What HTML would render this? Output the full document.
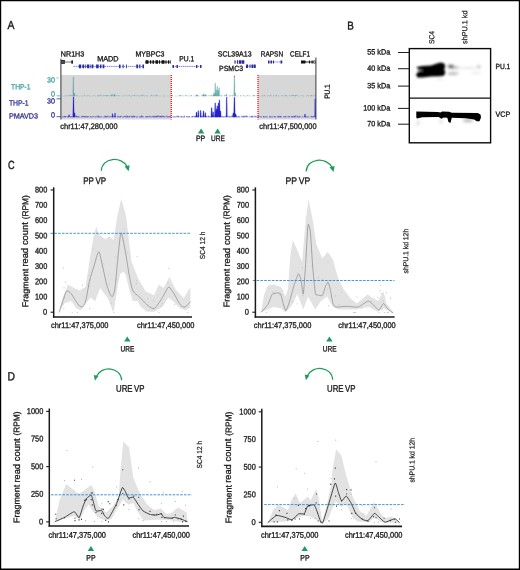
<!DOCTYPE html>
<html lang="en"><head><meta charset="utf-8"><title>Figure</title>
<style>
html,body{margin:0;padding:0;background:#fff;}
body{width:520px;height:570px;overflow:hidden;}
svg{display:block;font-family:'Liberation Sans', sans-serif;}
</style></head><body>
<svg width="520" height="570" viewBox="0 0 520 570">
<rect x="0" y="0" width="520" height="570" fill="#fff"/>
<g id="panelA">
<text transform="translate(7.5 29) matrix(0.8889 0.0005 0 1 0 0)" font-size="11.8" fill="#1a1a1a" stroke="#1a1a1a" stroke-width="0.4" text-anchor="start">A</text>
<rect x="61" y="75" width="110" height="44.5" fill="#d7d7d7"/>
<rect x="258" y="75" width="58" height="44.5" fill="#d7d7d7"/>
<text transform="translate(60.8 56.4) matrix(0.9555 0.0005 0 1 0 0)" font-size="7.5" fill="#1a1a1a" stroke="#1a1a1a" stroke-width="0.32" text-anchor="start">NR1H3</text>
<text transform="translate(97.2 61.2) matrix(0.9731 0.0005 0 1 0 0)" font-size="7.5" fill="#1a1a1a" stroke="#1a1a1a" stroke-width="0.32" text-anchor="start">MADD</text>
<text transform="translate(135.5 56.4) matrix(0.9402 0.0005 0 1 0 0)" font-size="7.5" fill="#1a1a1a" stroke="#1a1a1a" stroke-width="0.32" text-anchor="start">MYBPC3</text>
<text transform="translate(179.3 61.2) matrix(0.8989 0.0005 0 1 0 0)" font-size="7.5" fill="#1a1a1a" stroke="#1a1a1a" stroke-width="0.32" text-anchor="start">PU.1</text>
<text transform="translate(217.8 56.4) matrix(0.9316 0.0005 0 1 0 0)" font-size="7.5" fill="#1a1a1a" stroke="#1a1a1a" stroke-width="0.32" text-anchor="start">SCL39A13</text>
<text transform="translate(219.1 71.1) matrix(0.9287 0.0005 0 1 0 0)" font-size="7.5" fill="#1a1a1a" stroke="#1a1a1a" stroke-width="0.32" text-anchor="start">PSMC3</text>
<text transform="translate(260.8 56.4) matrix(0.8629 0.0005 0 1 0 0)" font-size="7.5" fill="#1a1a1a" stroke="#1a1a1a" stroke-width="0.32" text-anchor="start">RAPSN</text>
<text transform="translate(290 56.4) matrix(0.8568 0.0005 0 1 0 0)" font-size="7.5" fill="#1a1a1a" stroke="#1a1a1a" stroke-width="0.32" text-anchor="start">CELF1</text>
<line x1="64.5" y1="62" x2="71.5" y2="62" stroke="#666" stroke-width="0.9"/>
<rect x="61" y="60" width="3.9" height="3.9" fill="#2a2a2a"/>
<rect x="62" y="61.6" width="2.2" height="0.7" fill="#9a9a9a"/>
<ellipse cx="72.1" cy="62" rx="0.9" ry="2" fill="#111"/>
<line x1="73.4" y1="66.4" x2="144.2" y2="66.4" stroke="#6a6dcc" stroke-width="0.9" stroke-dasharray="1.4 0.7"/>
<path d="M78.8,64.60000000000001h2.4v3.6h-2.4zM82.4,64.60000000000001h1.8v3.6h-1.8zM85.3,64.60000000000001h0.8v3.6h-0.8zM87,64.60000000000001h2.4v3.6h-2.4zM90.4,64.60000000000001h1v3.6h-1zM92,64.60000000000001h1.4v3.6h-1.4zM96.1,64.60000000000001h2.6v3.6h-2.6zM100,64.60000000000001h1.4v3.6h-1.4zM102.6,64.60000000000001h1.8v3.6h-1.8zM119,64.60000000000001h1.5v3.6h-1.5zM122.6,64.60000000000001h1v3.6h-1zM126,64.60000000000001h0.8v3.6h-0.8zM136.3,64.60000000000001h1.8v3.6h-1.8zM139.2,64.60000000000001h1.2v3.6h-1.2zM142.4,64.60000000000001h1.6v3.6h-1.6z" fill="#2a2d9c"/>
<line x1="145.5" y1="62" x2="170.5" y2="62" stroke="#111" stroke-width="0.9"/>
<path d="M145.5,60.2h3v3.6h-3zM150,60.2h1.2v3.6h-1.2zM152.5,60.2h1.5v3.6h-1.5zM155.5,60.2h2.5v3.6h-2.5zM159,60.2h1v3.6h-1zM161.5,60.2h3v3.6h-3zM165.5,60.2h1v3.6h-1zM168,60.2h1v3.6h-1zM169.8,60.2h0.8v3.6h-0.8z" fill="#111"/>
<line x1="172.5" y1="66.4" x2="201.5" y2="66.4" stroke="#6a6dcc" stroke-width="0.9" stroke-dasharray="1.4 0.7"/>
<path d="M172.5,64.9h1.5v3h-1.5zM176.5,64.9h1.5v3h-1.5zM196,64.9h1.4v3h-1.4zM200,64.9h1.5v3h-1.5z" fill="#2a2d9c"/>
<line x1="234.5" y1="62" x2="244.5" y2="62" stroke="#6a6dcc" stroke-width="0.9" stroke-dasharray="1.4 0.7"/>
<path d="M234.5,60.3h1v3.4h-1zM237,60.3h1.2v3.4h-1.2zM239,60.3h2v3.4h-2zM241.5,60.3h2.8v3.4h-2.8z" fill="#2a2d9c"/>
<line x1="246" y1="66.2" x2="255.7" y2="66.2" stroke="#6a6dcc" stroke-width="0.9" stroke-dasharray="1.4 0.7"/>
<path d="M246,64.4h2v3.6h-2zM249.5,64.4h1v3.6h-1zM251.5,64.4h1.5v3.6h-1.5zM253.5,64.4h2.2v3.6h-2.2z" fill="#2a2d9c"/>
<line x1="268" y1="62" x2="282.5" y2="62" stroke="#6a6dcc" stroke-width="0.9" stroke-dasharray="1.4 0.7"/>
<path d="M268,60.5h1.5v3h-1.5zM270.5,60.5h1.5v3h-1.5zM273,60.5h1v3h-1zM280.5,60.5h1.8v3h-1.8z" fill="#2a2d9c"/>
<line x1="301" y1="62" x2="315.5" y2="62" stroke="#111" stroke-width="0.9"/>
<path d="M301,60.6h4.5v2.8h-4.5zM309,60.6h1v2.8h-1zM311.5,60.6h1.2v2.8h-1.2zM313.5,60.6h2v2.8h-2z" fill="#111"/>
<rect x="313.9" y="61.3" width="1.1" height="1.4" fill="#fff"/>
<line x1="60.9" y1="58.8" x2="60.9" y2="119.5" stroke="#4a4a4a" stroke-width="1.15"/>
<line x1="315.9" y1="57.6" x2="315.9" y2="119.5" stroke="#444" stroke-width="1.05"/>
<path d="M66.8,96.0v-0.8M69.2,96.0v-0.6M70.0,96.0v-1.0M71.6,96.0v-1.2M74.8,96.0v-0.4M76.4,96.0v-0.6M77.2,96.0v-0.4M84.4,96.0v-1.2M87.6,96.0v-0.6M88.4,96.0v-0.5M94.0,96.0v-0.6M98.0,96.0v-0.9M99.6,96.0v-0.5M100.4,96.0v-1.2M102.0,96.0v-0.6M102.8,96.0v-0.4M104.4,96.0v-0.8M106.0,96.0v-1.0M106.8,96.0v-0.9M107.6,96.0v-0.7M108.4,96.0v-0.6M110.8,96.0v-1.1M111.6,96.0v-0.7M114.0,96.0v-1.2M114.8,96.0v-0.6M116.4,96.0v-0.6M117.2,96.0v-0.5M118.8,96.0v-0.9M124.4,96.0v-0.5M126.8,96.0v-0.6M129.2,96.0v-1.2M132.4,96.0v-0.4M134.0,96.0v-1.0M134.8,96.0v-1.1M136.4,96.0v-0.5M138.0,96.0v-0.6M141.2,96.0v-1.1M142.0,96.0v-0.4M142.8,96.0v-0.8M143.6,96.0v-0.5M146.0,96.0v-0.7M150.8,96.0v-0.4M151.6,96.0v-1.1M154.0,96.0v-0.9M156.4,96.0v-1.2M157.2,96.0v-0.8M172.4,96.0v-0.9M179.6,96.0v-1.0M180.4,96.0v-0.9M182.0,96.0v-1.0M185.2,96.0v-0.4M186.0,96.0v-0.9M186.8,96.0v-0.5M190.8,96.0v-0.9M191.6,96.0v-0.7M196.4,96.0v-0.5M201.2,96.0v-0.5M202.8,96.0v-0.6M206.0,96.0v-1.1M208.4,96.0v-0.4M210.0,96.0v-1.0M211.6,96.0v-1.0M212.4,96.0v-0.5M214.0,96.0v-1.1M214.8,96.0v-0.5M215.6,96.0v-0.9M221.2,96.0v-0.8M222.0,96.0v-0.4M224.4,96.0v-0.6M225.2,96.0v-1.0M230.8,96.0v-1.1M232.4,96.0v-0.8M240.4,96.0v-1.0M243.6,96.0v-1.1M247.6,96.0v-1.1M249.2,96.0v-0.5M253.2,96.0v-1.0M254.0,96.0v-1.0M254.8,96.0v-0.7M256.4,96.0v-0.5M262.8,96.0v-0.6M264.4,96.0v-1.0M268.4,96.0v-0.7M270.8,96.0v-1.1M274.0,96.0v-0.8M276.4,96.0v-1.2M282.0,96.0v-0.8M285.2,96.0v-0.8M286.0,96.0v-0.7M289.2,96.0v-0.6M291.6,96.0v-1.0M292.4,96.0v-0.6M293.2,96.0v-0.9M294.0,96.0v-0.7M295.6,96.0v-1.0M296.4,96.0v-0.8M297.2,96.0v-0.6M302.0,96.0v-0.6M307.6,96.0v-1.0M310.0,96.0v-0.7M311.6,96.0v-1.2M313.2,96.0v-0.6M314.8,96.0v-0.5" stroke="#4a9b9b" stroke-width="0.7" fill="none" opacity="0.75"/>
<line x1="62" y1="96.0" x2="316" y2="96.0" stroke="#4a9b9b" stroke-width="0.7" stroke-dasharray="1 1.4 2 1.6 1 1.2" opacity="0.55"/>
<path d="M72.8,96.0L73.02,77.0L73.58,77.0L73.8,96.0ZM73.5,96.0L73.95,93.0L74.65,93.0L75.1,96.0ZM111.4,96.0L111.70,94.5L112.30,94.5L112.6,96.0ZM113.9,96.0L114.20,94.2L114.80,94.2L115.1,96.0ZM195.5,96.0L196.65,94.7L197.35,94.7L198.5,96.0ZM202.3,96.0L203.15,94.0L203.85,94.0L204.7,96.0ZM204.7,96.0L205.15,94.4L205.85,94.4L206.3,96.0ZM214.7,96.0L214.95,83.2L215.45,83.2L215.7,96.0ZM215.6,96.0L215.90,90.0L216.50,90.0L216.8,96.0ZM216.7,96.0L216.95,86.4L217.45,86.4L217.7,96.0ZM217.6,96.0L217.90,90.0L218.50,90.0L218.8,96.0ZM218.6,96.0L218.85,87.8L219.35,87.8L219.6,96.0ZM213.2,96.0L213.65,93.0L214.35,93.0L214.8,96.0ZM233.8,96.0L234.12,75.8L234.68,75.8L235.0,96.0ZM234.5,96.0L234.85,93.0L235.55,93.0L235.9,96.0ZM226.0,96.0L226.25,94.0L226.75,94.0L227.0,96.0Z" fill="#4a9b9b" stroke="#4a9b9b" stroke-width="0.3" opacity="0.8"/>
<path d="M64.4,116.9v-1.0M65.2,116.9v-0.9M66.0,116.9v-0.6M66.8,116.9v-0.6M68.4,116.9v-0.5M70.0,116.9v-0.9M71.6,116.9v-0.5M76.4,116.9v-1.2M77.2,116.9v-1.0M78.8,116.9v-0.5M82.0,116.9v-1.0M82.8,116.9v-0.6M83.6,116.9v-1.2M84.4,116.9v-0.5M85.2,116.9v-0.4M86.0,116.9v-1.0M87.6,116.9v-0.8M88.4,116.9v-0.7M90.8,116.9v-0.5M94.0,116.9v-0.9M97.2,116.9v-1.4M98.0,116.9v-0.8M98.8,116.9v-1.2M105.2,116.9v-1.4M106.0,116.9v-0.6M106.8,116.9v-0.9M107.6,116.9v-1.3M109.2,116.9v-0.5M110.8,116.9v-0.9M112.4,116.9v-0.8M114.0,116.9v-0.7M118.0,116.9v-1.1M120.4,116.9v-0.7M121.2,116.9v-1.2M124.4,116.9v-1.0M125.2,116.9v-1.0M126.8,116.9v-1.4M127.6,116.9v-1.0M129.2,116.9v-1.0M130.8,116.9v-1.1M131.6,116.9v-0.8M133.2,116.9v-1.3M134.0,116.9v-1.1M134.8,116.9v-0.8M135.6,116.9v-0.5M141.2,116.9v-1.3M142.0,116.9v-1.3M146.8,116.9v-0.7M147.6,116.9v-0.7M149.2,116.9v-0.8M150.0,116.9v-1.2M152.4,116.9v-0.7M153.2,116.9v-0.6M154.0,116.9v-1.3M155.6,116.9v-0.9M156.4,116.9v-1.0M157.2,116.9v-1.3M158.0,116.9v-1.3M158.8,116.9v-1.4M160.4,116.9v-1.2M161.2,116.9v-0.8M162.0,116.9v-1.2M162.8,116.9v-1.1M163.6,116.9v-1.1M164.4,116.9v-0.5M166.8,116.9v-1.4M168.4,116.9v-0.4M170.0,116.9v-1.1M176.4,116.9v-0.5M177.2,116.9v-1.3M178.0,116.9v-0.8M178.8,116.9v-1.0M181.2,116.9v-0.8M184.4,116.9v-1.3M186.8,116.9v-0.8M189.2,116.9v-0.8M192.4,116.9v-0.8M193.2,116.9v-0.7M194.0,116.9v-1.2M195.6,116.9v-0.6M196.4,116.9v-1.1M197.2,116.9v-0.6M202.0,116.9v-1.0M205.2,116.9v-0.5M206.8,116.9v-0.8M207.6,116.9v-0.4M208.4,116.9v-1.4M211.6,116.9v-0.6M213.2,116.9v-1.0M215.6,116.9v-0.5M217.2,116.9v-1.0M218.0,116.9v-1.0M221.2,116.9v-0.7M222.8,116.9v-0.7M226.0,116.9v-1.4M226.8,116.9v-1.2M229.2,116.9v-1.1M231.6,116.9v-1.3M233.2,116.9v-1.2M234.0,116.9v-0.5M238.8,116.9v-1.0M242.0,116.9v-1.1M243.6,116.9v-1.2M244.4,116.9v-0.6M245.2,116.9v-1.1M246.0,116.9v-1.4M246.8,116.9v-1.2M251.6,116.9v-1.2M252.4,116.9v-1.0M254.8,116.9v-1.3M255.6,116.9v-0.7M258.8,116.9v-1.2M260.4,116.9v-0.5M263.6,116.9v-0.9M270.0,116.9v-1.0M274.0,116.9v-0.9M274.8,116.9v-0.6M278.0,116.9v-0.6M278.8,116.9v-1.3M280.4,116.9v-1.0M281.2,116.9v-0.4M285.2,116.9v-1.0M287.6,116.9v-0.5M289.2,116.9v-1.1M291.6,116.9v-0.5M292.4,116.9v-0.9M294.0,116.9v-1.1M294.8,116.9v-1.1M295.6,116.9v-1.3M297.2,116.9v-1.3M299.6,116.9v-1.1M305.2,116.9v-0.7M311.6,116.9v-1.1M313.2,116.9v-0.7M314.0,116.9v-0.4M314.8,116.9v-0.7M315.6,116.9v-0.9" stroke="#2323c8" stroke-width="0.7" fill="none" opacity="0.75"/>
<line x1="62" y1="116.9" x2="316" y2="116.9" stroke="#2323c8" stroke-width="0.7" stroke-dasharray="4 1 2 0.8 5 1" opacity="0.8"/>
<path d="M68.5,116.9L68.75,114.7L69.25,114.7L69.5,116.9ZM72.8,116.9L73.15,96.9L73.85,96.9L74.2,116.9ZM73.6,116.9L74.15,112.9L74.85,112.9L75.4,116.9ZM112.0,116.9L112.22,113.7L112.78,113.7L113.0,116.9ZM114.5,116.9L114.72,113.3L115.28,113.3L115.5,116.9ZM195.8,116.9L196.15,112.3L196.85,112.3L197.2,116.9ZM197.7,116.9L197.98,110.7L198.62,110.7L199.0,116.9ZM200.0,116.9L200.38,110.5L201.02,110.5L201.3,116.9ZM202.8,116.9L203.18,110.9L203.82,110.9L204.2,116.9ZM204.7,116.9L204.98,112.7L205.62,112.7L206.0,116.9ZM210.9,116.9L211.35,107.7L212.05,107.7L212.4,116.9ZM212.4,116.9L212.85,111.9L213.55,111.9L213.9,116.9ZM214.5,116.9L214.88,102.9L215.52,102.9L215.8,116.9ZM215.6,116.9L215.95,108.9L216.65,108.9L217.0,116.9ZM216.6,116.9L216.95,105.9L217.65,105.9L218.0,116.9ZM217.7,116.9L218.05,102.9L218.75,102.9L219.1,116.9ZM218.8,116.9L219.08,100.1L219.72,100.1L220.1,116.9ZM219.6,116.9L220.05,110.9L220.75,110.9L221.2,116.9ZM226.1,116.9L226.40,97.3L227.00,97.3L227.3,116.9ZM233.7,116.9L234.05,97.1L234.75,97.1L235.2,116.9ZM232.4,116.9L233.05,112.9L233.75,112.9L234.4,116.9ZM234.6,116.9L235.25,113.9L235.95,113.9L236.6,116.9ZM304.5,116.9L304.75,114.1L305.25,114.1L305.5,116.9ZM314.7,116.9L314.88,98.9L315.33,98.9L315.6,116.9Z" fill="#2323c8" stroke="#2323c8" stroke-width="0.3" opacity="1.0"/>
<rect x="233.9" y="75.9" width="1.1" height="1" fill="#e040e0"/>
<rect x="233.9" y="97" width="1.1" height="1" fill="#e040e0"/>
<rect x="226.2" y="97" width="1.1" height="1" fill="#e040e0"/>
<line x1="171.3" y1="75" x2="171.3" y2="119.5" stroke="#f21010" stroke-width="1.3" stroke-dasharray="1 1"/>
<line x1="258.0" y1="75" x2="258.0" y2="119.5" stroke="#f21010" stroke-width="1.3" stroke-dasharray="1 1"/>
<text transform="translate(11 89.2) matrix(0.9044 0.0005 0 1 0 0)" font-size="7.5" fill="#4aa5a5" stroke="#4aa5a5" stroke-width="0.32" text-anchor="start">THP-1</text>
<text transform="translate(8.9 105.4) matrix(0.9136 0.0005 0 1 0 0)" font-size="7.5" fill="#3a3a9c" stroke="#3a3a9c" stroke-width="0.32" text-anchor="start">THP-1</text>
<text transform="translate(8.9 118.5) matrix(0.9671 0.0005 0 1 0 0)" font-size="7.5" fill="#3a3a9c" stroke="#3a3a9c" stroke-width="0.32" text-anchor="start">PMAVD3</text>
<text transform="translate(47 82.5) matrix(0.9588 0.0005 0 1 0 0)" font-size="7.5" fill="#4aa5a5" stroke="#4aa5a5" stroke-width="0.32" text-anchor="start">30</text>
<text transform="translate(51 96.4) matrix(0.9588 0.0005 0 1 0 0)" font-size="7.5" fill="#4aa5a5" stroke="#4aa5a5" stroke-width="0.32" text-anchor="start">0</text>
<text transform="translate(47 103.5) matrix(0.9588 0.0005 0 1 0 0)" font-size="7.5" fill="#3a3a9c" stroke="#3a3a9c" stroke-width="0.32" text-anchor="start">30</text>
<text transform="translate(51 117.4) matrix(0.9588 0.0005 0 1 0 0)" font-size="7.5" fill="#3a3a9c" stroke="#3a3a9c" stroke-width="0.32" text-anchor="start">0</text>
<line x1="56.5" y1="78" x2="58.5" y2="78" stroke="#4aa5a5" stroke-width="0.7"/>
<line x1="56.5" y1="95.8" x2="61" y2="95.8" stroke="#4aa5a5" stroke-width="0.8"/>
<line x1="56.5" y1="98.8" x2="61" y2="98.8" stroke="#3a3a9c" stroke-width="0.8"/>
<line x1="56.5" y1="116.7" x2="61" y2="116.7" stroke="#3a3a9c" stroke-width="0.8"/>
<text transform="translate(60.3 128.9) matrix(0.9182 0.0005 0 1 0 0)" font-size="8.1" fill="#1a1a1a" stroke="#1a1a1a" stroke-width="0.32" text-anchor="start">chr11:47,280,000</text>
<text transform="translate(259.3 128.9) matrix(0.9182 0.0005 0 1 0 0)" font-size="8.1" fill="#1a1a1a" stroke="#1a1a1a" stroke-width="0.32" text-anchor="start">chr11:47,500,000</text>
<text transform="translate(329.8 98.8) rotate(-90) matrix(0.8689 0.0005 0 1 0 0)" font-size="7.5" fill="#1a1a1a" stroke="#1a1a1a" stroke-width="0.32" text-anchor="start">PU.1</text>
<path d="M197.9,133.5L201.1,128.5L204.29999999999998,133.5Z" fill="#1e9c5a"/>
<path d="M214.4,133.5L217.6,128.5L220.79999999999998,133.5Z" fill="#1e9c5a"/>
<text transform="translate(200.6 141.1) matrix(0.8736 0.0005 0 1 0 0)" font-size="7.9" fill="#1a1a1a" stroke="#1a1a1a" stroke-width="0.32" text-anchor="middle">PP</text>
<text transform="translate(217.9 141.1) matrix(0.8277 0.0005 0 1 0 0)" font-size="7.9" fill="#1a1a1a" stroke="#1a1a1a" stroke-width="0.32" text-anchor="middle">URE</text>
</g>
<g id="panelB">
<text transform="translate(347.2 29.5) matrix(0.8837 0.0005 0 1 0 0)" font-size="11.2" fill="#1a1a1a" stroke="#1a1a1a" stroke-width="0.4" text-anchor="start">B</text>
<defs>
<filter id="bl1" x="-20%" y="-50%" width="140%" height="200%"><feGaussianBlur stdDeviation="0.9"/></filter>
<filter id="bl2" x="-20%" y="-50%" width="140%" height="200%"><feGaussianBlur stdDeviation="1.4"/></filter>
<filter id="bl3" x="-20%" y="-50%" width="140%" height="200%"><feGaussianBlur stdDeviation="0.7"/></filter>
</defs>
<g filter="url(#bl1)">
<path d="M416.8,67.1 L422.3,66.1 L431,65.4 L436.1,63.7 L440.5,62.4 L443.9,63.2 L445.3,65.8 L444.3,69.2 L445.3,72.7 L443.9,75.8 L439.6,76.2 L431,76.6 L422.3,77.6 L417.5,77.6 L416.3,75.3 L416.6,72.7 L418.5,70.5 L416.8,69 Z" fill="#000"/>
<path d="M415.5,69 L423.5,70.3 L415.5,72.3 Z" fill="#fff" opacity="0.6"/>
</g>
<g filter="url(#bl2)">
<ellipse cx="450.8" cy="66.5" rx="3" ry="1.7" fill="#000" opacity="0.65"/>
<ellipse cx="455.5" cy="67.6" rx="4" ry="1.2" fill="#000" opacity="0.3"/>
<ellipse cx="453" cy="73.4" rx="5.5" ry="1.5" fill="#000" opacity="0.28"/>
<ellipse cx="468" cy="68" rx="9" ry="1" fill="#000" opacity="0.1"/>
<ellipse cx="478.8" cy="66.8" rx="1.6" ry="1.8" fill="#000" opacity="0.28"/>
<ellipse cx="476" cy="73" rx="5" ry="1.2" fill="#000" opacity="0.08"/>
<ellipse cx="440" cy="79.5" rx="3" ry="1" fill="#000" opacity="0.1"/>
<ellipse cx="418" cy="123" rx="1.5" ry="3" fill="#000" opacity="0.12"/>
<ellipse cx="441" cy="121.5" rx="1.5" ry="2.5" fill="#000" opacity="0.12"/>
<ellipse cx="468" cy="120.5" rx="5" ry="1.6" fill="#000" opacity="0.3"/>
</g>
<g filter="url(#bl3)">
<path d="M416.3,111.6 L437.9,111.9 L440.5,112.5 L442.2,111.5 L449.1,111.7 L451.7,112.7 L477.7,113 L480.5,114.4 L481,117.6 L479.5,121.2 L476.7,121.2 L474.2,119.5 L465.6,118.2 L451.8,117.8 L450.4,123 L448.5,122 L447.3,117.8 L443.9,117.4 L441.3,118.7 L438.7,116.9 L422.3,117.3 L417,118.6 L416.3,117.5 Z" fill="#000"/>
</g>
<rect x="409.3" y="48.6" width="81.3" height="94.2" fill="none" stroke="#0a0a0a" stroke-width="1.4"/>
<line x1="409.3" y1="98.1" x2="490.5" y2="98.1" stroke="#111" stroke-width="1.3"/>
<line x1="398" y1="52.5" x2="409" y2="52.5" stroke="#222" stroke-width="1.05"/>
<text transform="translate(390.2 54.6) matrix(0.9401 0.0005 0 1 0 0)" font-size="7.7" fill="#1a1a1a" stroke="#1a1a1a" stroke-width="0.32" text-anchor="end">55 kDa</text>
<line x1="398" y1="68.7" x2="409" y2="68.7" stroke="#222" stroke-width="1.05"/>
<text transform="translate(390.2 70.8) matrix(0.9401 0.0005 0 1 0 0)" font-size="7.7" fill="#1a1a1a" stroke="#1a1a1a" stroke-width="0.32" text-anchor="end">40 kDa</text>
<line x1="398" y1="86.1" x2="409" y2="86.1" stroke="#222" stroke-width="1.05"/>
<text transform="translate(390.2 88.19999999999999) matrix(0.9401 0.0005 0 1 0 0)" font-size="7.7" fill="#1a1a1a" stroke="#1a1a1a" stroke-width="0.32" text-anchor="end">35 kDa</text>
<line x1="398" y1="108.4" x2="409" y2="108.4" stroke="#222" stroke-width="1.05"/>
<text transform="translate(390.2 110.5) matrix(0.9392 0.0005 0 1 0 0)" font-size="7.7" fill="#1a1a1a" stroke="#1a1a1a" stroke-width="0.32" text-anchor="end">100 kDa</text>
<line x1="398" y1="124.2" x2="409" y2="124.2" stroke="#222" stroke-width="1.05"/>
<text transform="translate(390.2 126.3) matrix(0.9401 0.0005 0 1 0 0)" font-size="7.7" fill="#1a1a1a" stroke="#1a1a1a" stroke-width="0.32" text-anchor="end">70 kDa</text>
<text transform="translate(434.3 44) rotate(-90) matrix(0.8771 0.0005 0 1 0 0)" font-size="7.5" fill="#1a1a1a" stroke="#1a1a1a" stroke-width="0.2" text-anchor="start">SC4</text>
<text transform="translate(467.2 44) rotate(-90) matrix(0.9708 0.0005 0 1 0 0)" font-size="7.5" fill="#1a1a1a" stroke="#1a1a1a" stroke-width="0.2" text-anchor="start">shPU.1 kd</text>
<text transform="translate(495.5 69) matrix(0.8869 0.0005 0 1 0 0)" font-size="7.5" fill="#1a1a1a" stroke="#1a1a1a" stroke-width="0.32" text-anchor="start">PU.1</text>
<text transform="translate(495.5 116.8) matrix(0.9597 0.0005 0 1 0 0)" font-size="7.5" fill="#1a1a1a" stroke="#1a1a1a" stroke-width="0.32" text-anchor="start">VCP</text>
</g>
<g id="panelC">
<text transform="translate(8 169) matrix(0.7736 0.0005 0 1 0 0)" font-size="11.8" fill="#1a1a1a" stroke="#1a1a1a" stroke-width="0.4" text-anchor="start">C</text>
<text transform="translate(83.3 183.9) matrix(0.8406 0.0005 0 1 0 0)" font-size="9.5" fill="#1a1a1a" stroke="#1a1a1a" stroke-width="0.32" text-anchor="start" word-spacing="-0.7">PP VP</text>
<g transform="translate(0.0 0.0)"><path d="M101.3,170.8 C102,157.2 121.5,155.7 127.4,167" stroke="#1e9c5a" stroke-width="1.25" fill="none"/><path d="M124.6,166.6 L128.6,171.2 L129.7,165.2 Z" fill="#1e9c5a"/></g>
<polygon points="59.0,312.5 62.0,300.0 67.8,284.5 74.0,288.0 79.6,290.5 85.5,287.0 90.0,258.0 93.5,237.0 96.2,226.5 98.6,233.6 101.0,236.0 105.7,239.5 109.2,236.0 113.5,240.0 117.0,218.0 121.2,198.7 126.3,217.0 128.8,240.0 131.6,262.0 138.7,279.8 145.8,291.6 154.1,295.2 158.8,284.5 163.6,288.0 169.5,277.0 175.4,289.3 183.7,298.3 188.0,291.0 190.4,287.4 190.4,305.9 186.0,310.6 180.2,308.2 174.2,302.3 168.3,297.6 162.4,307.0 154.1,311.8 147.0,311.8 141.0,307.0 137.5,301.0 132.8,301.0 129.2,289.3 125.7,275.0 123.5,271.5 120.0,273.9 117.0,290.0 113.5,313.0 108.0,298.7 100.2,288.0 95.0,301.6 90.8,297.6 85.5,303.5 80.8,310.6 76.0,308.0 71.3,301.0 64.2,303.5 59.0,312.5" fill="#e2e2e2"/>
<path d="M77.0,312.5h1M92.7,249.3h1M123.9,228.7h1M162.0,303.7h1M71.7,312.5h1M115.8,279.6h1M158.6,312.5h1M153.3,308.8h1M89.2,308.6h1M63.5,287.9h1M62.8,267.9h1M109.1,284.2h1M87.7,285.3h1M88.3,286.3h1M116.4,257.8h1M89.5,279.6h1M87.9,275.5h1M62.3,304.1h1M168.4,268.3h1M83.7,297.2h1M188.5,307.5h1M102.8,263.9h1M153.3,300.6h1M114.4,256.5h1M167.4,282.7h1M135.9,283.6h1M174.2,304.4h1M136.1,280.6h1M64.0,297.9h1M113.4,312.5h1M82.0,285.4h1M147.2,298.8h1M108.2,274.8h1M160.7,305.7h1M127.2,253.3h1M63.3,308.6h1M65.2,282.1h1M136.6,256.5h1M110.7,303.1h1M187.2,312.5h1" stroke="#c8c8c8" stroke-width="1.15" fill="none"/>
<path d="M59.0,312.5 C59.4,311.2 61.5,304.7 62.5,302.0 C63.5,299.3 65.5,292.3 66.6,291.2 C67.7,290.1 69.9,292.3 71.0,293.5 C72.1,294.7 74.4,298.9 75.5,300.5 C76.6,302.1 78.6,305.3 79.6,306.0 C80.6,306.7 82.4,307.1 83.2,306.3 C84.0,305.5 85.2,303.2 86.0,300.0 C86.8,296.8 88.5,285.3 89.5,281.0 C90.5,276.7 92.8,269.7 94.0,266.0 C95.2,262.3 97.7,251.8 98.8,251.8 C99.9,251.8 101.5,261.9 102.5,266.0 C103.5,270.1 105.5,280.5 106.5,284.0 C107.5,287.5 109.2,292.4 110.0,294.0 C110.8,295.6 111.9,297.2 112.5,296.4 C113.1,295.6 114.4,292.4 115.0,288.0 C115.6,283.6 116.7,269.0 117.5,262.0 C118.3,255.0 120.0,234.1 121.0,233.0 C122.0,231.9 124.7,248.4 125.7,253.7 C126.7,259.0 128.3,270.3 129.2,275.0 C130.1,279.7 131.6,287.8 132.8,290.5 C134.0,293.2 137.4,295.1 138.7,296.4 C140.0,297.7 142.2,299.8 143.4,301.0 C144.6,302.2 146.8,304.9 148.2,305.9 C149.6,306.9 152.8,309.0 154.1,308.7 C155.4,308.4 157.4,304.9 158.5,303.5 C159.6,302.1 161.5,299.2 162.4,297.6 C163.3,296.0 165.2,292.3 166.0,291.0 C166.8,289.7 168.0,286.6 169.0,287.0 C170.0,287.4 172.8,291.8 174.2,294.0 C175.6,296.2 178.8,303.1 180.2,304.7 C181.6,306.3 183.7,307.4 185.0,307.0 C186.3,306.6 189.7,302.3 190.4,301.6" stroke="#7d7d7d" stroke-width="0.62" fill="none" stroke-linejoin="round"/>
<line x1="50.5" y1="233.3" x2="191" y2="233.3" stroke="#2f8bd6" stroke-width="0.9" stroke-dasharray="2.6 1.2"/>
<path d="M53.7,187.3V317.70000000000005" stroke="#1a1a1a" stroke-width="1.5" fill="none"/>
<path d="M52.95,317.05H192" stroke="#1a1a1a" stroke-width="1.55" fill="none"/>
<line x1="50.6" y1="312.2" x2="53.7" y2="312.2" stroke="#1a1a1a" stroke-width="1.1"/>
<text transform="translate(47.3 314.8) matrix(0.8990 0.0005 0 1 0 0)" font-size="8.4" fill="#1a1a1a" stroke="#1a1a1a" stroke-width="0.32" text-anchor="end">0</text>
<text transform="translate(47.3 299.52000000000004) matrix(0.8796 0.0005 0 1 0 0)" font-size="8.4" fill="#1a1a1a" stroke="#1a1a1a" stroke-width="0.32" text-anchor="end">100</text>
<text transform="translate(47.3 284.24) matrix(0.8796 0.0005 0 1 0 0)" font-size="8.4" fill="#1a1a1a" stroke="#1a1a1a" stroke-width="0.32" text-anchor="end">200</text>
<text transform="translate(47.3 268.96000000000004) matrix(0.8796 0.0005 0 1 0 0)" font-size="8.4" fill="#1a1a1a" stroke="#1a1a1a" stroke-width="0.32" text-anchor="end">300</text>
<text transform="translate(47.3 253.67999999999998) matrix(0.8796 0.0005 0 1 0 0)" font-size="8.4" fill="#1a1a1a" stroke="#1a1a1a" stroke-width="0.32" text-anchor="end">400</text>
<text transform="translate(47.3 238.4) matrix(0.8796 0.0005 0 1 0 0)" font-size="8.4" fill="#1a1a1a" stroke="#1a1a1a" stroke-width="0.32" text-anchor="end">500</text>
<text transform="translate(47.3 223.11999999999998) matrix(0.8796 0.0005 0 1 0 0)" font-size="8.4" fill="#1a1a1a" stroke="#1a1a1a" stroke-width="0.32" text-anchor="end">600</text>
<text transform="translate(47.3 207.84) matrix(0.8796 0.0005 0 1 0 0)" font-size="8.4" fill="#1a1a1a" stroke="#1a1a1a" stroke-width="0.32" text-anchor="end">700</text>
<line x1="50.6" y1="189.95999999999998" x2="53.7" y2="189.95999999999998" stroke="#1a1a1a" stroke-width="1.1"/>
<text transform="translate(47.3 192.55999999999997) matrix(0.8796 0.0005 0 1 0 0)" font-size="8.4" fill="#1a1a1a" stroke="#1a1a1a" stroke-width="0.32" text-anchor="end">800</text>
<g transform="translate(28.3 251.2) rotate(-90)">
<text transform="translate(-56.0 0) matrix(1.0451 0.0005 0 1 0 0)" font-size="8.6" fill="#1a1a1a" stroke="#1a1a1a" stroke-width="0.3" text-anchor="start">Fragment</text>
<text transform="translate(-15.35 0) matrix(1.0763 0.0005 0 1 0 0)" font-size="8.6" fill="#1a1a1a" stroke="#1a1a1a" stroke-width="0.3" text-anchor="start">read</text>
<text transform="translate(6.09 0) matrix(1.0909 0.0005 0 1 0 0)" font-size="8.6" fill="#1a1a1a" stroke="#1a1a1a" stroke-width="0.3" text-anchor="start">count</text>
<text transform="translate(31.85 0) matrix(0.9727 0.0005 0 1 0 0)" font-size="8.6" fill="#1a1a1a" stroke="#1a1a1a" stroke-width="0.3" text-anchor="start">(RPM)</text>
</g>
<text transform="translate(51 327.90000000000003) matrix(0.9109 0.0005 0 1 0 0)" font-size="8.2" fill="#1a1a1a" stroke="#1a1a1a" stroke-width="0.32" text-anchor="start">chr11:47,375,000</text>
<text transform="translate(137 327.90000000000003) matrix(0.9109 0.0005 0 1 0 0)" font-size="8.2" fill="#1a1a1a" stroke="#1a1a1a" stroke-width="0.32" text-anchor="start">chr11:47,450,000</text>
<text transform="translate(205.1 259.2) rotate(-90) matrix(0.9068 0.0005 0 1 0 0)" font-size="7.3" fill="#1a1a1a" stroke="#1a1a1a" stroke-width="0.2" text-anchor="start">SC4 12 h</text>
<path d="M124.1,341.6L127.3,336.6L130.5,341.6Z" fill="#1e9c5a"/>
<text transform="translate(127.4 351.4) matrix(0.8277 0.0005 0 1 0 0)" font-size="7.9" fill="#1a1a1a" stroke="#1a1a1a" stroke-width="0.32" text-anchor="middle">URE</text>
<text transform="translate(285.59999999999997 183.9) matrix(0.9069 0.0005 0 1 0 0)" font-size="9.5" fill="#1a1a1a" stroke="#1a1a1a" stroke-width="0.32" text-anchor="start" word-spacing="-0.7">PP VP</text>
<g transform="translate(204.9 0.7)"><path d="M101.3,170.8 C102,157.2 121.5,155.7 127.4,167" stroke="#1e9c5a" stroke-width="1.25" fill="none"/><path d="M124.6,166.6 L128.6,171.2 L129.7,165.2 Z" fill="#1e9c5a"/></g>
<polygon points="261.1,312.3 264.2,294.0 267.8,285.7 273.7,284.5 280.8,287.0 285.5,296.4 288.0,289.0 290.3,256.0 292.7,240.0 297.4,250.2 302.1,262.0 305.7,220.5 308.5,199.2 312.8,220.5 316.4,244.2 322.3,258.5 327.7,252.0 333.0,259.6 337.8,277.4 343.7,289.3 350.8,298.7 356.7,303.5 362.7,298.7 367.4,294.5 373.3,298.3 378.0,301.0 383.5,291.2 386.4,303.5 393.0,311.8 393.0,313.0 383.5,308.2 378.0,311.8 368.6,307.0 355.5,309.4 339.0,309.4 333.0,307.0 327.0,296.4 321.0,301.0 315.2,309.4 308.0,296.4 303.3,309.4 297.4,294.0 291.5,305.9 285.5,312.3 280.8,308.2 273.7,307.0 261.1,312.3" fill="#e2e2e2"/>
<path d="M386.7,312.5h1M272.6,292.4h1M371.0,301.4h1M301.9,267.5h1M340.9,292.2h1M282.2,290.5h1M317.9,277.3h1M391.8,312.5h1M385.9,292.6h1M296.6,273.1h1M266.2,312.5h1M303.2,291.3h1M311.3,266.2h1M334.9,295.8h1M292.4,301.7h1M279.4,295.4h1M328.3,305.6h1M285.3,310.0h1M378.6,312.5h1M380.3,285.5h1M361.4,307.9h1M390.0,298.4h1M387.5,312.5h1M355.2,312.5h1M321.9,279.1h1M382.7,300.9h1M327.1,289.5h1M377.2,297.5h1M379.4,290.9h1M382.1,309.2h1M356.3,297.1h1M304.0,279.0h1M353.1,312.5h1M296.6,303.7h1M380.9,293.6h1M354.0,312.5h1M327.6,262.2h1M338.5,304.6h1M302.4,295.6h1M383.9,312.5h1" stroke="#c8c8c8" stroke-width="1.15" fill="none"/>
<path d="M261.1,312.3 C261.7,311.6 266.7,306.4 267.8,304.7 C268.9,303.0 271.3,295.0 272.5,294.0 C273.7,293.0 279.3,292.6 280.3,293.5 C281.3,294.4 282.7,301.9 283.2,303.5 C283.7,305.1 285.3,311.0 286.0,310.6 C286.7,310.2 289.5,301.4 290.3,298.7 C291.1,296.0 294.2,284.5 295.0,282.2 C295.8,279.9 298.0,274.1 298.6,273.9 C299.2,273.7 300.6,277.9 301.0,279.8 C301.4,281.7 302.9,295.5 303.3,294.0 C303.7,292.5 305.3,269.6 305.7,263.2 C306.1,256.8 307.6,227.9 308.0,225.0 C308.4,222.1 310.0,228.4 310.4,232.4 C310.8,236.4 312.3,262.3 312.8,268.0 C313.3,273.7 315.0,291.0 315.4,293.5 C315.8,296.0 316.9,294.6 317.5,294.8 C318.1,295.0 321.5,296.3 322.3,295.5 C323.1,294.7 325.2,286.9 325.8,285.7 C326.4,284.5 327.7,281.6 328.2,282.2 C328.7,282.8 330.3,289.6 330.7,291.6 C331.1,293.6 332.6,302.1 333.0,303.5 C333.4,304.9 334.5,306.2 335.0,306.5 C335.5,306.8 337.0,307.0 338.0,307.0 C339.0,307.0 344.1,306.3 346.0,306.3 C347.9,306.3 356.3,307.3 358.0,307.0 C359.7,306.7 362.8,304.1 363.8,303.5 C364.8,302.9 367.7,300.9 368.6,301.0 C369.5,301.1 372.3,303.9 373.3,304.7 C374.3,305.5 377.8,310.1 378.8,310.0 C379.8,309.9 382.7,303.6 383.5,303.5 C384.3,303.4 386.6,307.8 387.5,308.7 C388.4,309.6 392.5,312.6 393.0,313.0" stroke="#7d7d7d" stroke-width="0.62" fill="none" stroke-linejoin="round"/>
<line x1="252.8" y1="280.5" x2="394.5" y2="280.5" stroke="#2f8bd6" stroke-width="0.9" stroke-dasharray="2.6 1.2"/>
<path d="M255.4,187.3V317.70000000000005" stroke="#1a1a1a" stroke-width="1.5" fill="none"/>
<path d="M254.65,317.05H394.6" stroke="#1a1a1a" stroke-width="1.55" fill="none"/>
<line x1="252.3" y1="312.2" x2="255.4" y2="312.2" stroke="#1a1a1a" stroke-width="1.1"/>
<text transform="translate(249 314.8) matrix(0.8990 0.0005 0 1 0 0)" font-size="8.4" fill="#1a1a1a" stroke="#1a1a1a" stroke-width="0.32" text-anchor="end">0</text>
<text transform="translate(249 299.52000000000004) matrix(0.8796 0.0005 0 1 0 0)" font-size="8.4" fill="#1a1a1a" stroke="#1a1a1a" stroke-width="0.32" text-anchor="end">100</text>
<text transform="translate(249 284.24) matrix(0.8796 0.0005 0 1 0 0)" font-size="8.4" fill="#1a1a1a" stroke="#1a1a1a" stroke-width="0.32" text-anchor="end">200</text>
<text transform="translate(249 268.96000000000004) matrix(0.8796 0.0005 0 1 0 0)" font-size="8.4" fill="#1a1a1a" stroke="#1a1a1a" stroke-width="0.32" text-anchor="end">300</text>
<text transform="translate(249 253.67999999999998) matrix(0.8796 0.0005 0 1 0 0)" font-size="8.4" fill="#1a1a1a" stroke="#1a1a1a" stroke-width="0.32" text-anchor="end">400</text>
<text transform="translate(249 238.4) matrix(0.8796 0.0005 0 1 0 0)" font-size="8.4" fill="#1a1a1a" stroke="#1a1a1a" stroke-width="0.32" text-anchor="end">500</text>
<text transform="translate(249 223.11999999999998) matrix(0.8796 0.0005 0 1 0 0)" font-size="8.4" fill="#1a1a1a" stroke="#1a1a1a" stroke-width="0.32" text-anchor="end">600</text>
<text transform="translate(249 207.84) matrix(0.8796 0.0005 0 1 0 0)" font-size="8.4" fill="#1a1a1a" stroke="#1a1a1a" stroke-width="0.32" text-anchor="end">700</text>
<line x1="252.3" y1="189.95999999999998" x2="255.4" y2="189.95999999999998" stroke="#1a1a1a" stroke-width="1.1"/>
<text transform="translate(249 192.55999999999997) matrix(0.8796 0.0005 0 1 0 0)" font-size="8.4" fill="#1a1a1a" stroke="#1a1a1a" stroke-width="0.32" text-anchor="end">800</text>
<g transform="translate(229.6 251.2) rotate(-90)">
<text transform="translate(-56.0 0) matrix(1.0451 0.0005 0 1 0 0)" font-size="8.6" fill="#1a1a1a" stroke="#1a1a1a" stroke-width="0.3" text-anchor="start">Fragment</text>
<text transform="translate(-15.35 0) matrix(1.0763 0.0005 0 1 0 0)" font-size="8.6" fill="#1a1a1a" stroke="#1a1a1a" stroke-width="0.3" text-anchor="start">read</text>
<text transform="translate(6.09 0) matrix(1.0909 0.0005 0 1 0 0)" font-size="8.6" fill="#1a1a1a" stroke="#1a1a1a" stroke-width="0.3" text-anchor="start">count</text>
<text transform="translate(31.85 0) matrix(0.9727 0.0005 0 1 0 0)" font-size="8.6" fill="#1a1a1a" stroke="#1a1a1a" stroke-width="0.3" text-anchor="start">(RPM)</text>
</g>
<text transform="translate(253.8 327.90000000000003) matrix(0.9109 0.0005 0 1 0 0)" font-size="8.2" fill="#1a1a1a" stroke="#1a1a1a" stroke-width="0.32" text-anchor="start">chr11:47,375,000</text>
<text transform="translate(338.2 327.90000000000003) matrix(0.9109 0.0005 0 1 0 0)" font-size="8.2" fill="#1a1a1a" stroke="#1a1a1a" stroke-width="0.32" text-anchor="start">chr11:47,450,000</text>
<text transform="translate(408.2 273.5) rotate(-90) matrix(0.9358 0.0005 0 1 0 0)" font-size="7.3" fill="#1a1a1a" stroke="#1a1a1a" stroke-width="0.2" text-anchor="start">shPU.1 kd 12h</text>
<path d="M326.2,341.6L329.4,336.6L332.59999999999997,341.6Z" fill="#1e9c5a"/>
<text transform="translate(329.6 351.4) matrix(0.8277 0.0005 0 1 0 0)" font-size="7.9" fill="#1a1a1a" stroke="#1a1a1a" stroke-width="0.32" text-anchor="middle">URE</text>
</g>
<g id="panelD">
<text transform="translate(7.6 380.2) matrix(0.8791 0.0005 0 1 0 0)" font-size="11.8" fill="#1a1a1a" stroke="#1a1a1a" stroke-width="0.4" text-anchor="start">D</text>
<text transform="translate(116 391.7) matrix(0.8249 0.0005 0 1 0 0)" font-size="9.5" fill="#1a1a1a" stroke="#1a1a1a" stroke-width="0.32" text-anchor="start" word-spacing="-0.7">URE VP</text>
<g transform="translate(-211.0 0.5)"><path d="M332.7,379.8 C332,366.2 312.5,364.7 307.3,376" stroke="#1e9c5a" stroke-width="1.25" fill="none"/><path d="M309.4,375.6 L305.9,380.2 L304.8,374.4 Z" fill="#1e9c5a"/></g>
<polygon points="54.8,521.8 59.7,499.6 66.2,484.3 79.1,494.0 91.2,485.1 94.4,490.7 98.5,506.1 106.5,512.5 113.0,506.1 118.7,496.4 120.6,470.0 123.2,441.5 129.0,447.1 133.3,477.8 139.0,491.5 147.1,504.5 154.3,510.1 160.8,508.5 166.5,514.2 172.1,512.5 177.8,507.4 186.7,512.5 187.5,521.0 187.5,522.0 182.6,522.2 166.5,519.8 155.2,519.8 143.8,520.6 138.2,512.5 133.3,502.9 128.5,504.5 122.8,499.6 117.9,507.7 111.4,519.0 106.5,520.6 98.5,518.2 93.6,512.5 88.8,504.5 83.9,510.9 79.9,519.8 74.2,515.8 54.8,521.8" fill="#e2e2e2"/>
<path d="M66.5,450.7h1M92.3,467.0h1M64.0,480.6h1M81.0,479.4h1M101.2,503.7h1M116.1,487.0h1M93.9,521.4h1M85.0,520.6h1M101.2,521.4h1M138.0,468.1h1M149.5,481.8h1M162.7,492.3h1M181.8,491.5h1M174.8,501.6h1M160.8,503.7h1M185.0,505.3h1M128.5,509.6h1M138.2,518.7h1M142.5,520.6h1M161.1,521.4h1M166.0,521.4h1M173.2,521.4h1" stroke="#b0b0b0" stroke-width="1" fill="none"/>
<path d="M74.1,480.2h1M55.2,514.2h1M55.7,518.7h1M64.0,517.7h1M74.5,518.2h1M74.5,520.6h1M78.5,519.8h1M81.0,519.3h1M85.8,499.6h1M84.2,500.4h1M90.7,499.6h1M91.8,492.8h1M90.8,493.0h1M91.8,504.8h1M95.5,512.5h1M101.5,509.0h1M102.8,509.3h1M101.2,513.4h1M107.7,501.6h1M109.3,503.7h1M105.2,520.3h1M108.0,521.9h1M115.7,505.3h1M119.0,494.8h1M122.3,469.7h1M117.5,499.6h1M122.3,493.5h1M128.5,498.8h1M133.3,496.1h1M138.2,497.2h1M138.5,509.6h1M149.5,511.3h1M153.4,515.0h1M156.3,514.2h1M160.8,513.8h1M161.4,517.4h1M164.3,517.7h1M171.6,518.2h1M174.8,515.0h1M177.6,518.7h1M180.8,519.3h1M182.9,516.1h1M182.1,521.9h1M185.4,521.4h1M123.2,504.8h1" stroke="#333" stroke-width="1.15" fill="none"/>
<path d="M54.8,521.8 C55.6,521.4 62.9,518.2 64.5,517.4 C66.1,516.6 73.0,511.7 74.2,511.7 C75.4,511.7 78.4,518.2 79.1,517.7 C79.8,517.2 82.5,507.7 83.1,506.1 C83.7,504.5 85.6,499.7 86.3,498.8 C87.0,497.9 90.6,494.8 91.2,495.1 C91.8,495.4 93.2,501.6 93.6,502.9 C94.0,504.2 95.3,510.3 96.0,510.9 C96.7,511.5 101.0,510.3 101.7,510.6 C102.4,510.9 103.7,514.4 104.1,515.0 C104.5,515.6 106.1,517.5 106.5,517.7 C106.9,517.9 108.2,518.8 109.0,517.7 C109.8,516.6 115.3,506.5 116.2,504.5 C117.1,502.5 119.5,495.4 120.0,494.0 C120.5,492.6 122.1,487.7 122.5,487.5 C122.9,487.3 124.8,490.6 125.3,491.5 C125.8,492.4 127.8,497.5 128.5,498.0 C129.2,498.5 132.5,496.7 133.3,497.2 C134.1,497.7 137.4,503.4 138.2,504.5 C139.0,505.6 142.0,510.1 143.0,510.9 C144.0,511.7 149.2,514.2 150.3,514.5 C151.5,514.8 155.9,515.1 156.8,515.0 C157.7,514.9 160.7,513.6 161.3,513.8 C161.9,514.0 163.2,517.0 164.0,517.4 C164.8,517.8 170.4,518.2 171.3,518.2 C172.2,518.2 173.7,517.3 174.5,517.4 C175.3,517.5 179.9,518.6 181.0,519.0 C182.1,519.4 187.0,521.6 187.5,521.8" stroke="#1a1a1a" stroke-width="0.8" fill="none" stroke-linejoin="round"/>
<line x1="51" y1="494.8" x2="192" y2="494.8" stroke="#2f8bd6" stroke-width="0.9" stroke-dasharray="2.6 1.2"/>
<path d="M49.3,408.5V526.6" stroke="#1a1a1a" stroke-width="1.5" fill="none"/>
<path d="M48.55,525.95H189" stroke="#1a1a1a" stroke-width="1.55" fill="none"/>
<line x1="46.2" y1="521.9" x2="49.3" y2="521.9" stroke="#1a1a1a" stroke-width="1.1"/>
<text transform="translate(43.3 524.5) matrix(0.8990 0.0005 0 1 0 0)" font-size="8.4" fill="#1a1a1a" stroke="#1a1a1a" stroke-width="0.32" text-anchor="end">0</text>
<text transform="translate(43.3 496.875) matrix(0.8796 0.0005 0 1 0 0)" font-size="8.4" fill="#1a1a1a" stroke="#1a1a1a" stroke-width="0.32" text-anchor="end">250</text>
<line x1="46.2" y1="466.65" x2="49.3" y2="466.65" stroke="#1a1a1a" stroke-width="1.1"/>
<text transform="translate(43.3 469.25) matrix(0.8796 0.0005 0 1 0 0)" font-size="8.4" fill="#1a1a1a" stroke="#1a1a1a" stroke-width="0.32" text-anchor="end">500</text>
<text transform="translate(43.3 441.625) matrix(0.8796 0.0005 0 1 0 0)" font-size="8.4" fill="#1a1a1a" stroke="#1a1a1a" stroke-width="0.32" text-anchor="end">750</text>
<line x1="46.2" y1="411.4" x2="49.3" y2="411.4" stroke="#1a1a1a" stroke-width="1.1"/>
<text transform="translate(43.3 414.0) matrix(0.8798 0.0005 0 1 0 0)" font-size="8.4" fill="#1a1a1a" stroke="#1a1a1a" stroke-width="0.32" text-anchor="end">1000</text>
<g transform="translate(19.5 467.2) rotate(-90)">
<text transform="translate(-55.75 0) matrix(1.0404 0.0005 0 1 0 0)" font-size="8.6" fill="#1a1a1a" stroke="#1a1a1a" stroke-width="0.3" text-anchor="start">Fragment</text>
<text transform="translate(-15.28 0) matrix(1.0715 0.0005 0 1 0 0)" font-size="8.6" fill="#1a1a1a" stroke="#1a1a1a" stroke-width="0.3" text-anchor="start">read</text>
<text transform="translate(6.06 0) matrix(1.0860 0.0005 0 1 0 0)" font-size="8.6" fill="#1a1a1a" stroke="#1a1a1a" stroke-width="0.3" text-anchor="start">count</text>
<text transform="translate(31.71 0) matrix(0.9684 0.0005 0 1 0 0)" font-size="8.6" fill="#1a1a1a" stroke="#1a1a1a" stroke-width="0.3" text-anchor="start">(RPM)</text>
</g>
<text transform="translate(48.5 537.7) matrix(0.9109 0.0005 0 1 0 0)" font-size="8.2" fill="#1a1a1a" stroke="#1a1a1a" stroke-width="0.32" text-anchor="start">chr11:47,375,000</text>
<text transform="translate(132.5 537.7) matrix(0.9109 0.0005 0 1 0 0)" font-size="8.2" fill="#1a1a1a" stroke="#1a1a1a" stroke-width="0.32" text-anchor="start">chr11:47,450,000</text>
<text transform="translate(202 468.4) rotate(-90) matrix(0.9068 0.0005 0 1 0 0)" font-size="7.3" fill="#1a1a1a" stroke="#1a1a1a" stroke-width="0.2" text-anchor="start">SC4 12 h</text>
<path d="M87.7,551.1L90.9,546.1L94.10000000000001,551.1Z" fill="#1e9c5a"/>
<text transform="translate(90.9 560.5) matrix(0.8736 0.0005 0 1 0 0)" font-size="7.9" fill="#1a1a1a" stroke="#1a1a1a" stroke-width="0.32" text-anchor="middle">PP</text>
<text transform="translate(327 391.7) matrix(0.8249 0.0005 0 1 0 0)" font-size="9.5" fill="#1a1a1a" stroke="#1a1a1a" stroke-width="0.32" text-anchor="start" word-spacing="-0.7">URE VP</text>
<g transform="translate(0.0 0.0)"><path d="M332.7,379.8 C332,366.2 312.5,364.7 307.3,376" stroke="#1e9c5a" stroke-width="1.25" fill="none"/><path d="M309.4,375.6 L305.9,380.2 L304.8,374.4 Z" fill="#1e9c5a"/></g>
<polygon points="267.7,522.7 273.3,510.1 278.2,504.5 287.8,510.1 291.9,499.6 295.6,493.2 300.0,502.9 308.0,496.4 310.5,500.4 316.1,489.1 318.5,496.4 322.1,521.4 326.6,506.1 331.5,483.5 332.4,470.5 336.1,449.2 341.3,455.2 346.2,475.4 352.6,496.4 359.9,510.9 366.3,515.8 374.4,502.0 380.1,512.5 384.9,518.2 391.4,516.6 399.5,521.4 399.5,523.0 381.7,522.2 374.4,517.4 368.8,522.2 357.5,521.4 352.6,517.4 346.2,503.7 341.3,506.9 335.7,501.2 331.0,511.7 328.2,519.0 322.6,523.0 316.9,520.6 310.5,516.6 304.0,515.8 294.3,519.0 286.2,521.4 267.7,522.7" fill="#e2e2e2"/>
<path d="M317.2,441.5h1M295.7,468.9h1M304.3,473.4h1M276.8,487.0h1M307.2,489.1h1M293.8,498.3h1M310.0,518.2h1M314.8,518.2h1M330.6,478.6h1M335.2,440.2h1M375.5,461.7h1M350.5,494.0h1M341.1,509.6h1M390.6,509.0h1M361.8,505.3h1M351.3,518.7h1M362.6,513.8h1M373.9,522.2h1M378.0,522.0h1" stroke="#b0b0b0" stroke-width="1" fill="none"/>
<path d="M315.6,502.9h1M297.8,505.3h1M278.9,510.6h1M286.5,513.4h1M275.2,515.0h1M276.1,515.2h1M303.8,514.5h1M305.1,508.5h1M308.3,505.8h1M309.3,505.6h1M287.3,519.8h1M291.4,520.3h1M294.6,519.0h1M299.0,519.0h1M273.6,521.9h1M276.8,521.9h1M317.7,521.0h1M320.5,522.0h1M328.5,521.0h1M330.2,484.3h1M316.1,494.0h1M334.8,468.1h1M334.0,478.9h1M330.3,484.3h1M346.1,489.6h1M350.5,489.9h1M346.1,494.0h1M335.2,496.1h1M341.1,500.9h1M336.0,506.1h1M373.9,507.7h1M351.3,513.4h1M355.3,513.4h1M373.1,516.6h1M375.5,517.7h1M361.8,519.0h1M367.5,521.4h1M383.6,518.2h1M390.1,520.6h1M394.1,519.0h1M394.9,522.2h1M399.0,519.0h1" stroke="#333" stroke-width="1.15" fill="none"/>
<path d="M267.7,522.7 C268.4,522.1 275.0,515.9 276.5,515.5 C278.0,515.1 284.9,517.3 286.2,517.7 C287.5,518.1 290.8,520.1 291.9,519.8 C292.9,519.5 297.8,514.3 298.8,513.8 C299.8,513.3 303.6,514.4 304.3,513.8 C305.0,513.2 306.8,506.9 307.6,506.1 C308.4,505.4 313.2,504.4 314.0,504.8 C314.8,505.2 316.4,509.5 316.9,510.9 C317.4,512.3 320.0,520.4 320.5,521.4 C321.0,522.4 322.1,523.9 322.6,523.0 C323.1,522.1 326.0,512.9 326.6,510.9 C327.2,508.9 329.3,501.9 330.0,499.6 C330.7,497.3 334.5,483.8 335.2,483.1 C335.9,482.4 337.6,490.0 338.1,491.5 C338.6,493.0 340.9,500.5 341.6,500.9 C342.3,501.3 345.4,495.9 346.2,496.1 C347.0,496.3 350.2,501.5 351.0,502.9 C351.8,504.3 354.9,512.0 355.8,513.4 C356.7,514.8 361.3,518.7 362.3,519.3 C363.3,519.9 367.0,521.1 368.0,520.6 C369.0,520.1 373.5,513.7 374.4,513.4 C375.3,513.1 377.6,515.9 378.5,516.6 C379.4,517.3 383.8,521.9 384.9,522.2 C386.0,522.5 390.5,520.1 391.4,519.8 C392.3,519.5 394.7,518.8 395.4,519.0 C396.1,519.2 399.2,522.3 399.5,522.6" stroke="#1a1a1a" stroke-width="0.8" fill="none" stroke-linejoin="round"/>
<line x1="264.2" y1="504.6" x2="405" y2="504.6" stroke="#2f8bd6" stroke-width="0.9" stroke-dasharray="2.6 1.2"/>
<path d="M261.8,408.7V527.0" stroke="#1a1a1a" stroke-width="1.5" fill="none"/>
<path d="M261.05,526.35H402" stroke="#1a1a1a" stroke-width="1.55" fill="none"/>
<line x1="258.7" y1="522.3" x2="261.8" y2="522.3" stroke="#1a1a1a" stroke-width="1.1"/>
<text transform="translate(255.8 524.9) matrix(0.8990 0.0005 0 1 0 0)" font-size="8.4" fill="#1a1a1a" stroke="#1a1a1a" stroke-width="0.32" text-anchor="end">0</text>
<text transform="translate(255.8 497.275) matrix(0.8796 0.0005 0 1 0 0)" font-size="8.4" fill="#1a1a1a" stroke="#1a1a1a" stroke-width="0.32" text-anchor="end">250</text>
<line x1="258.7" y1="467.04999999999995" x2="261.8" y2="467.04999999999995" stroke="#1a1a1a" stroke-width="1.1"/>
<text transform="translate(255.8 469.65) matrix(0.8796 0.0005 0 1 0 0)" font-size="8.4" fill="#1a1a1a" stroke="#1a1a1a" stroke-width="0.32" text-anchor="end">500</text>
<text transform="translate(255.8 442.025) matrix(0.8796 0.0005 0 1 0 0)" font-size="8.4" fill="#1a1a1a" stroke="#1a1a1a" stroke-width="0.32" text-anchor="end">750</text>
<line x1="258.7" y1="411.79999999999995" x2="261.8" y2="411.79999999999995" stroke="#1a1a1a" stroke-width="1.1"/>
<text transform="translate(255.8 414.4) matrix(0.8798 0.0005 0 1 0 0)" font-size="8.4" fill="#1a1a1a" stroke="#1a1a1a" stroke-width="0.32" text-anchor="end">1000</text>
<g transform="translate(231.4 467.5) rotate(-90)">
<text transform="translate(-55.75 0) matrix(1.0404 0.0005 0 1 0 0)" font-size="8.6" fill="#1a1a1a" stroke="#1a1a1a" stroke-width="0.3" text-anchor="start">Fragment</text>
<text transform="translate(-15.28 0) matrix(1.0715 0.0005 0 1 0 0)" font-size="8.6" fill="#1a1a1a" stroke="#1a1a1a" stroke-width="0.3" text-anchor="start">read</text>
<text transform="translate(6.06 0) matrix(1.0860 0.0005 0 1 0 0)" font-size="8.6" fill="#1a1a1a" stroke="#1a1a1a" stroke-width="0.3" text-anchor="start">count</text>
<text transform="translate(31.71 0) matrix(0.9684 0.0005 0 1 0 0)" font-size="8.6" fill="#1a1a1a" stroke="#1a1a1a" stroke-width="0.3" text-anchor="start">(RPM)</text>
</g>
<text transform="translate(261 537.8) matrix(0.9109 0.0005 0 1 0 0)" font-size="8.2" fill="#1a1a1a" stroke="#1a1a1a" stroke-width="0.32" text-anchor="start">chr11:47,375,000</text>
<text transform="translate(345 537.8) matrix(0.9109 0.0005 0 1 0 0)" font-size="8.2" fill="#1a1a1a" stroke="#1a1a1a" stroke-width="0.32" text-anchor="start">chr11:47,450,000</text>
<text transform="translate(414.6 482.6) rotate(-90) matrix(0.9358 0.0005 0 1 0 0)" font-size="7.3" fill="#1a1a1a" stroke="#1a1a1a" stroke-width="0.2" text-anchor="start">shPU.1 kd 12h</text>
<path d="M301.5,551.1L304.7,546.1L307.9,551.1Z" fill="#1e9c5a"/>
<text transform="translate(304.9 560.5) matrix(0.8736 0.0005 0 1 0 0)" font-size="7.9" fill="#1a1a1a" stroke="#1a1a1a" stroke-width="0.32" text-anchor="middle">PP</text>
</g>
<path d="M0,0H520V570H0Z M1.2,1.2V568.6H518.8V1.2Z" fill="#000" fill-rule="evenodd"/>
</svg>
</body></html>
